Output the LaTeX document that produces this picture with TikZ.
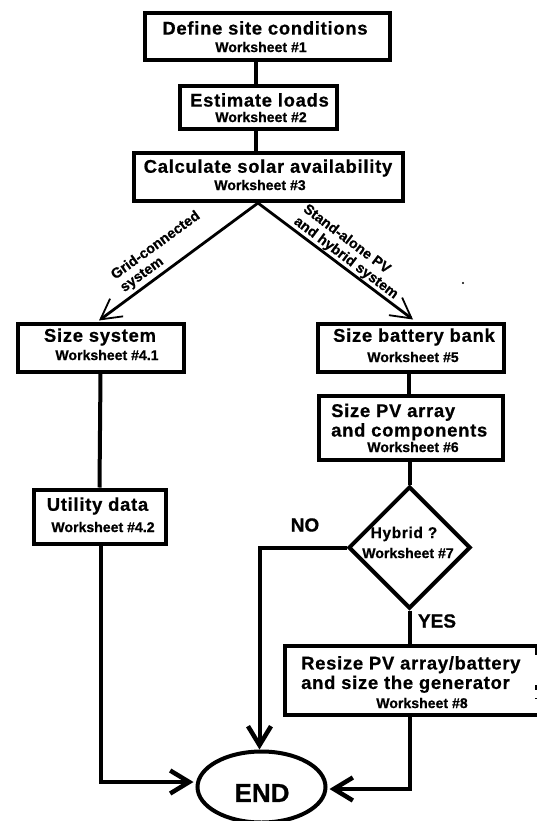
\documentclass[tikz,border=0pt]{standalone}
\usepackage{fontspec}
\setmainfont{Liberation Sans}
\newfontfamily\ttl{Liberation Sans Bold}[LetterSpace=4,FakeBold=0.7]
\newfontfamily\wsf{Liberation Sans Bold}[FakeBold=0.7]
\usetikzlibrary{arrows.meta,shapes.geometric}
\tikzset{
  x=1pt,y=-1pt,
  box/.style={draw,line width=4pt,rectangle,inner sep=0pt,fill=white},
  ttext/.style={inner sep=0pt,font=\ttl\fontsize{18.4}{19.5}\selectfont,align=left},
  ws/.style={inner sep=0pt,font=\wsf\fontsize{14.1}{15}\selectfont},
  dlab/.style={inner sep=0pt,font=\wsf\fontsize{14.3}{15.5}\selectfont,align=left},
  bigl/.style={inner sep=0pt,font=\wsf\fontsize{19}{22}\selectfont},
  conn/.style={line width=4pt,line cap=butt},
  barb/.style={-{Straight Barb[length=19pt,width=23pt,line width=4.5pt]}},
  thin barb/.style={-{Straight Barb[length=20pt,width=22pt,line width=1.8pt]}},
}
\begin{document}
\begin{tikzpicture}
\useasboundingbox (0,0) rectangle (537,821);
\clip (0,0) rectangle (537,821);
\node[box,minimum width=245pt,minimum height=47pt] (b1) at (267,37) {};
\node[box,minimum width=157pt,minimum height=43pt] (b2) at (258,108) {};
\node[box,minimum width=269pt,minimum height=47pt] (b3) at (268,177) {};
\node[box,minimum width=166pt,minimum height=48pt] (b41) at (100.5,347.5) {};
\node[box,minimum width=186pt,minimum height=48pt] (b5) at (410.5,347.5) {};
\node[box,minimum width=184pt,minimum height=64pt] (b6) at (410.5,427.5) {};
\node[box,minimum width=132pt,minimum height=54pt] (b42) at (99.5,516.5) {};
\node[draw,line width=4pt,diamond,inner sep=0pt,fill=white,minimum width=122pt,minimum height=122pt] (d7) at (409.5,547.5) {};
\node[box,minimum width=260pt,minimum height=69pt] (b8) at (415,680) {};
\node[draw,line width=4pt,ellipse,inner sep=0pt,fill=white,minimum width=128pt,minimum height=71pt] (e) at (261.5,787) {};

\node[ttext] (t1) at (265,28) {Define site conditions};
\node[ws] (w1) at (261,47) {Worksheet \#1};
\node[ttext] (t2) at (259.5,100) {Estimate loads};
\node[ws] (w2) at (261,117) {Worksheet \#2};
\node[ttext] (t3) at (268,168) {Calculate solar availability};
\node[ws] (w3) at (260,185) {Worksheet \#3};
\node[ttext] (t41) at (100,337) {Size system};
\node[ws] (w41) at (107,355) {Worksheet \#4.1};
\node[ttext] (t5) at (414,337) {Size battery bank};
\node[ws] (w5) at (413,357) {Worksheet \#5};
\node[ttext,anchor=west] (t6) at (331,422) {Size PV array\\and components};
\node[ws] (w6) at (413,447) {Worksheet \#6};
\node[ttext] (t42) at (97.5,506) {Utility data};
\node[ws] (w42) at (103,527) {Worksheet \#4.2};
\node[ttext,font=\ttl\fontsize{15.5}{18}\selectfont] (t7) at (404,534) {Hybrid ?};
\node[ws] (w7) at (408,553) {Worksheet \#7};
\node[ttext,anchor=west] (t8) at (301,674.5) {Resize PV array/battery\\and size the generator};
\node[ws] (w8) at (422,703) {Worksheet \#8};
\node[inner sep=0pt,font=\wsf\fontsize{26}{30}\selectfont] (tend) at (262,793) {END};
\node[bigl] (no) at (305,525) {NO};
\node[bigl] (yes) at (437,621) {YES};
\node[dlab,rotate=36] (gl) at (160.4,252) {Grid-connected\\system};
\node[dlab,rotate=-37] (sl) at (350.5,252) {Stand-alone PV\\and hybrid system};

\draw[conn] (b1.south -| 256,0) -- (b2.north -| 256,0);
\draw[conn] (b2.south -| 256,0) -- (b3.north -| 256,0);
\coordinate (split) at (258,203);
\draw[line width=2.8pt,thin barb] (split) -- ([xshift=-1.5pt,yshift=1pt]b41.north);
\draw[line width=2.8pt,thin barb] (split) -- ([xshift=2.5pt,yshift=2pt]b5.north);
\draw[conn] (b41.south) -- (b42.north);
\draw[conn] (b5.south -| 409,0) -- (b6.north -| 409,0);
\draw[conn] (b6.south -| d7.north) -- (d7.north);
\draw[conn] (d7.south) -- (b8.north -| d7.south);
\draw[conn,barb] (b42.south -| 101,0) |- ([xshift=-2pt,yshift=5pt]e.west);
\draw[conn,barb] (d7.west) -| ([xshift=-2pt]e.north);
\draw[conn,barb] (b8.south -| 410,0) |- ([xshift=2pt,yshift=-2pt]e.east);
\fill (463,283) circle (1.2pt);
\draw[line width=1.2pt] (536,644) -- (536,655) (536,685) -- (536,690) (536,698) -- (536,699);
\end{tikzpicture}
\end{document}
